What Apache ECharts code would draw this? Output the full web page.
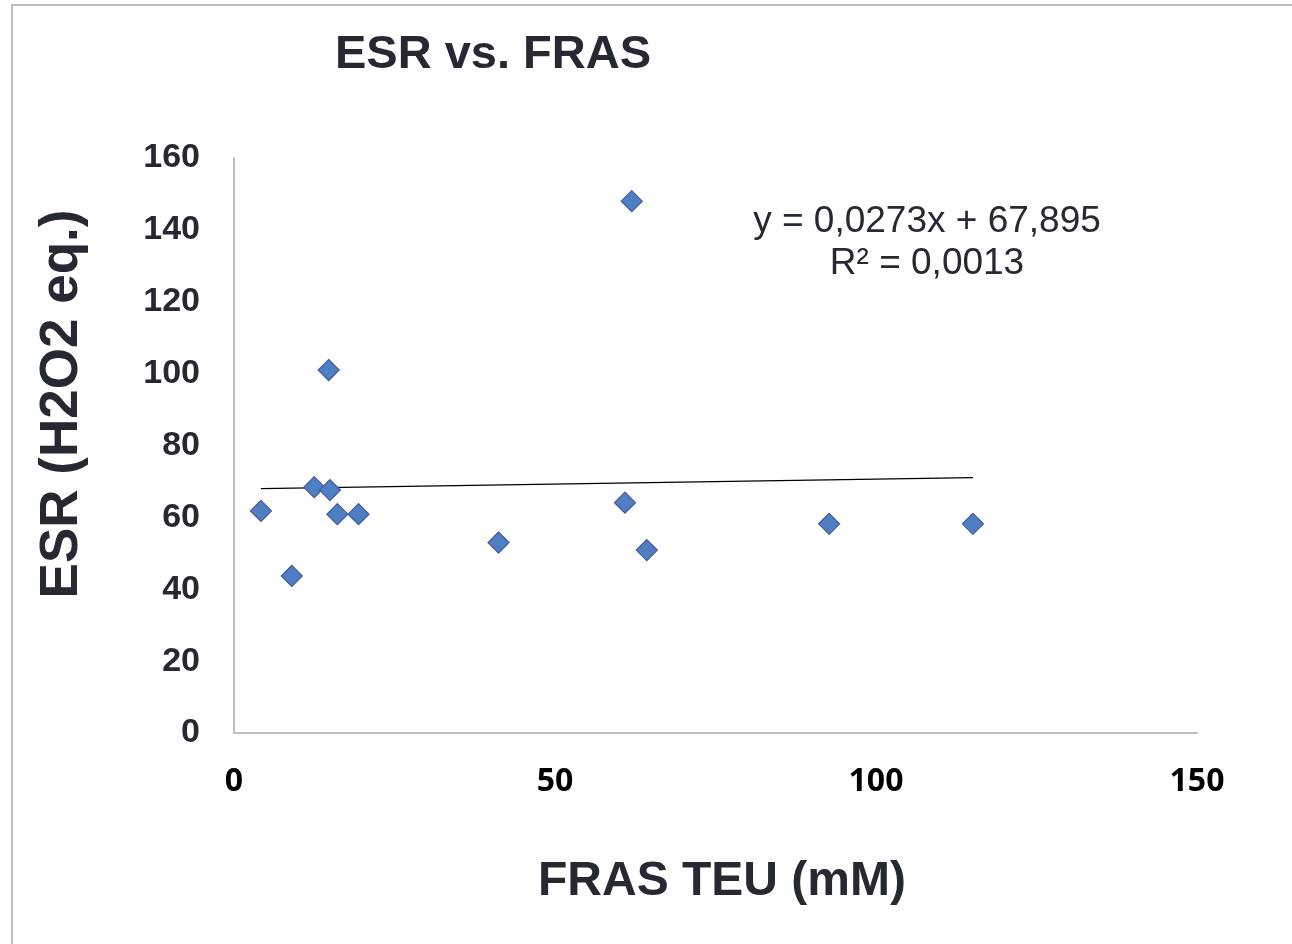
<!DOCTYPE html>
<html>
<head>
<meta charset="utf-8">
<title>ESR vs. FRAS</title>
<script src="https://cdn.jsdelivr.net/npm/echarts@6/dist/echarts.min.js"></script>
<style>
  html, body { margin: 0; padding: 0; background: #fff; }
  #chart { width: 1292px; height: 944px; }
</style>
</head>
<body>
<div id="chart"></div>
<script>
// data
var frasTeu = [4.2, 9.0, 12.5, 14.75, 14.95, 16.1, 19.4, 41.2, 60.9, 61.95, 64.3, 92.7, 115.1];
var esrH2o2 = [61.8, 43.7, 68.4, 101.0, 67.6, 60.9, 60.9, 53.0, 64.1, 148.0, 50.9, 58.2, 58.2];
var xTicks = [0, 50, 100, 150];
var yTicks = [0, 20, 40, 60, 80, 100, 120, 140, 160];
// linear trend shown on the chart
var slope = 0.0273;
var intercept = 67.895;

var points = frasTeu.map(function (x, i) { return [x, esrH2o2[i]]; });
var xMin = Math.min.apply(null, frasTeu);
var xMax = Math.max.apply(null, frasTeu);
var trend = [[xMin, slope * xMin + intercept], [xMax, slope * xMax + intercept]];

var textColor = '#262932';
var chart = echarts.init(document.getElementById('chart'));
chart.setOption({
  backgroundColor: '#fff',
  animation: false,
  grid: { left: 234, top: 158, right: 95, bottom: 211 },
  xAxis: {
    type: 'value',
    min: xTicks[0],
    max: xTicks[xTicks.length - 1],
    interval: 50,
    axisLine: { lineStyle: { color: '#bfbfbf', width: 2 } },
    axisTick: { show: false },
    splitLine: { show: false },
    axisLabel: {
      margin: 33,
      fontFamily: 'Open Sans',
      fontWeight: 'bold',
      fontSize: 32,
      color: '#000'
    }
  },
  yAxis: {
    type: 'value',
    min: yTicks[0],
    max: yTicks[yTicks.length - 1],
    interval: 20,
    axisLine: { show: true, lineStyle: { color: '#bfbfbf', width: 2 } },
    axisTick: { show: false },
    splitLine: { show: false },
    axisLabel: {
      margin: 34,
      fontFamily: 'Liberation Sans',
      fontWeight: 'bold',
      fontSize: 34,
      color: textColor
    }
  },
  series: [
    {
      type: 'line',
      data: trend,
      symbol: 'none',
      lineStyle: { color: '#000', width: 1.2 },
      z: 2
    },
    {
      type: 'scatter',
      data: points,
      symbol: 'diamond',
      symbolSize: 21,
      itemStyle: { color: '#4f7fc3', borderColor: '#46599a', borderWidth: 1.2, opacity: 1 },
      z: 3
    }
  ],
  graphic: [
    {
      type: 'rect',
      shape: { x: 12, y: 5, width: 1300, height: 960 },
      style: { fill: 'none', stroke: '#bcbcbc', lineWidth: 2 },
      silent: true
    },
    {
      type: 'text',
      style: {
        x: 493,
        y: 55,
        text: 'ESR vs. FRAS',
        align: 'center',
        verticalAlign: 'middle',
        fontFamily: 'Liberation Sans',
        fontWeight: 'bold',
        fontSize: 47,
        fill: textColor
      }
    },
    {
      type: 'text',
      x: 62,
      y: 404,
      rotation: Math.PI / 2,
      style: {
        x: 0,
        y: 0,
        text: 'ESR (H2O2 eq.)',
        align: 'center',
        verticalAlign: 'middle',
        fontFamily: 'Liberation Sans',
        fontWeight: 'bold',
        fontSize: 53,
        fill: textColor
      }
    },
    {
      type: 'text',
      style: {
        x: 722,
        y: 882,
        text: 'FRAS TEU (mM)',
        align: 'center',
        verticalAlign: 'middle',
        fontFamily: 'Liberation Sans',
        fontWeight: 'bold',
        fontSize: 48,
        fill: textColor
      }
    },
    {
      type: 'text',
      style: {
        x: 927,
        y: 222,
        text: 'y = 0,0273x + 67,895',
        align: 'center',
        verticalAlign: 'middle',
        fontFamily: 'Liberation Sans',
        fontSize: 37,
        fill: textColor
      }
    },
    {
      type: 'text',
      style: {
        x: 927,
        y: 264,
        text: 'R² = 0,0013',
        align: 'center',
        verticalAlign: 'middle',
        fontFamily: 'Liberation Sans',
        fontSize: 37,
        fill: textColor
      }
    }
  ]
});
</script>
</body>
</html>
